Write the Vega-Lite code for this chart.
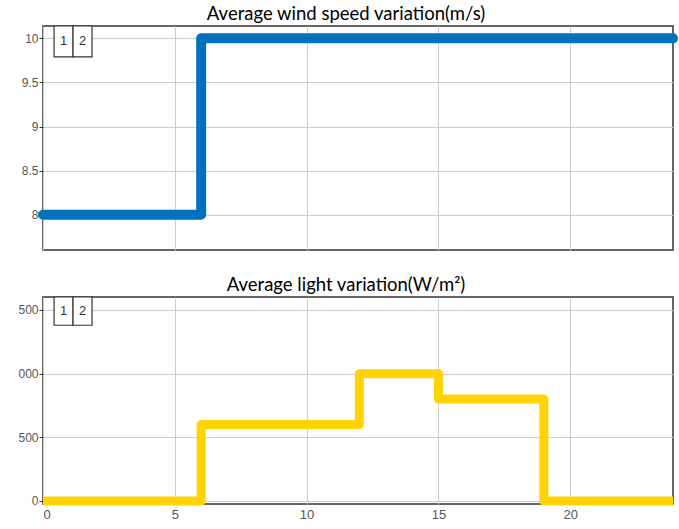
{
  "$schema": "https://vega.github.io/schema/vega-lite/v6.json",
  "background": "white",
  "padding": {"left": 17, "top": 4, "right": 0, "bottom": 4},
  "spacing": 47,
  "bounds": "flush",
  "config": {
    "view": {"stroke": "#333333", "strokeWidth": 1.5},
    "axis": {
      "labelFont": "Liberation Sans",
      "labelFontSize": 12,
      "labelColor": "#555555",
      "gridColor": "#cccccc",
      "gridWidth": 1,
      "tickColor": "#333333",
      "tickSize": 4,
      "labelPadding": 1,
      "domain": false,
      "title": null
    },
    "title": {"font": "Lato", "fontSize": 18.5, "fontWeight": "normal", "color": "#000000", "offset": 2, "dx": -12}
  },
  "datasets": {
    "wind": [
      {"t": 0, "v": 8},
      {"t": 6, "v": 10},
      {"t": 23.9, "v": 10}
    ],
    "light": [
      {"t": 0, "v": 0},
      {"t": 6, "v": 600},
      {"t": 12, "v": 1000},
      {"t": 15, "v": 800},
      {"t": 19, "v": 0},
      {"t": 23.9, "v": 0}
    ],
    "windKey": [
      {"a": 0.42, "b": 1.14, "top": 10.14, "bottom": 9.79, "label": "1", "mid": 0.78, "ly": 9.965},
      {"a": 1.14, "b": 1.86, "top": 10.14, "bottom": 9.79, "label": "2", "mid": 1.5, "ly": 9.965}
    ],
    "lightKey": [
      {"a": 0.42, "b": 1.14, "top": 1602, "bottom": 1380, "label": "1", "mid": 0.78, "ly": 1491},
      {"a": 1.14, "b": 1.86, "top": 1602, "bottom": 1380, "label": "2", "mid": 1.5, "ly": 1491}
    ]
  },
  "vconcat": [
    {
      "title": "Average wind speed variation(m/s)",
      "width": 630,
      "height": 224,
      "layer": [
        {
          "data": {"name": "wind"},
          "mark": {"type": "line", "interpolate": "step-after", "color": "#0072BD", "strokeWidth": 10, "strokeJoin": "round", "strokeCap": "round"},
          "encoding": {
            "x": {"field": "t", "type": "quantitative", "scale": {"domain": [0, 23.9], "nice": false, "zero": false}, "axis": {"values": [0, 5, 10, 15, 20], "labels": false, "ticks": false}},
            "y": {"field": "v", "type": "quantitative", "scale": {"domain": [7.6, 10.14], "nice": false, "zero": false}, "axis": {"values": [8, 8.5, 9, 9.5, 10], "format": "~g"}}
          }
        },
        {
          "data": {"name": "windKey"},
          "mark": {"type": "rect", "fill": "white", "stroke": "#333333", "strokeWidth": 1.2},
          "encoding": {
            "x": {"field": "a", "type": "quantitative"},
            "x2": {"field": "b"},
            "y": {"field": "top", "type": "quantitative"},
            "y2": {"field": "bottom"}
          }
        },
        {
          "data": {"name": "windKey"},
          "mark": {"type": "text", "font": "Liberation Sans", "fontSize": 13, "fill": "#333333", "baseline": "middle", "align": "center"},
          "encoding": {
            "x": {"field": "mid", "type": "quantitative"},
            "y": {"field": "ly", "type": "quantitative"},
            "text": {"field": "label"}
          }
        }
      ]
    },
    {
      "title": "Average light variation(W/m²)",
      "width": 630,
      "height": 207,
      "layer": [
        {
          "data": {"name": "light"},
          "mark": {"type": "line", "interpolate": "step-after", "color": "#FFD400", "strokeWidth": 9, "strokeJoin": "round", "strokeCap": "butt"},
          "encoding": {
            "x": {"field": "t", "type": "quantitative", "scale": {"domain": [0, 23.9], "nice": false, "zero": false}, "axis": {"values": [0, 5, 10, 15, 20], "labelPadding": 4, "labelFontSize": 13, "ticks": false}},
            "y": {"field": "v", "type": "quantitative", "scale": {"domain": [-24, 1602], "nice": false, "zero": false}, "axis": {"values": [0, 500, 1000, 1500], "labelExpr": "datum.value >= 1000 ? substring(toString(datum.value), 1) : toString(datum.value)"}}
          }
        },
        {
          "data": {"name": "lightKey"},
          "mark": {"type": "rect", "fill": "white", "stroke": "#333333", "strokeWidth": 1.2},
          "encoding": {
            "x": {"field": "a", "type": "quantitative"},
            "x2": {"field": "b"},
            "y": {"field": "top", "type": "quantitative"},
            "y2": {"field": "bottom"}
          }
        },
        {
          "data": {"name": "lightKey"},
          "mark": {"type": "text", "font": "Liberation Sans", "fontSize": 13, "fill": "#333333", "baseline": "middle", "align": "center"},
          "encoding": {
            "x": {"field": "mid", "type": "quantitative"},
            "y": {"field": "ly", "type": "quantitative"},
            "text": {"field": "label"}
          }
        }
      ]
    }
  ]
}
